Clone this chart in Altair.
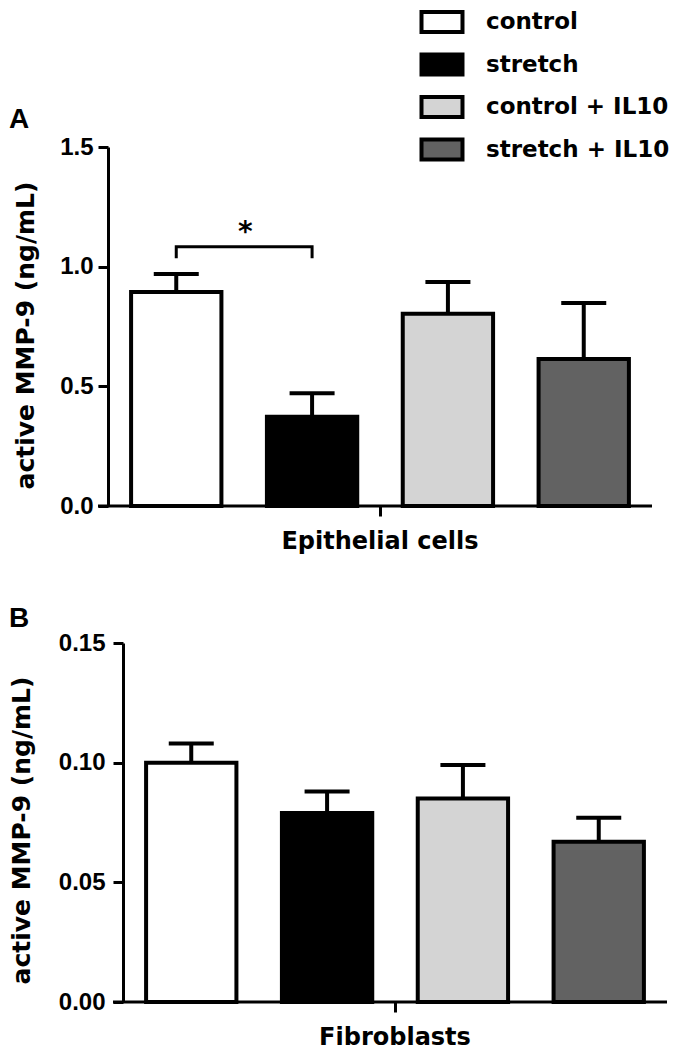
import altair as alt
import pandas as pd

# ---------------- data ----------------
groups = ["control", "stretch", "control + IL10", "stretch + IL10"]
fills = ["#ffffff", "#000000", "#d4d4d4", "#626262"]

epi_label = "Epithelial cells"
epi_mean = [0.894, 0.373, 0.803, 0.614]
epi_sem = [0.075, 0.098, 0.133, 0.234]
epi_ticks = [0.0, 0.5, 1.0, 1.5]

fib_label = "Fibroblasts"
fib_mean = [0.100, 0.079, 0.085, 0.067]
fib_sem = [0.008, 0.009, 0.014, 0.010]
fib_ticks = [0.0, 0.05, 0.10, 0.15]

sig_pair = ["control", "stretch"]
sig_level = 1.083
sig_drop = 1.035
sig_text = "*"

y_title = "active MMP-9 (ng/mL)"

TXT = "DejaVu Sans"
NUM = "Liberation Sans"
W, H = 544, 359

rect_path = "M-1.708,-0.833H1.708V0.833H-1.708Z"


def panel(cell, means, sems, ticks, fmt, ymax, letter, letter_y, shift,
          title_x, title_y, label_pad, legend, bracket):
    df = pd.DataFrame({
        "cell": [cell] * len(groups),
        "group": groups,
        "mean": means,
        "upper": [m + s for m, s in zip(means, sems)],
    })
    width = W + shift
    po = shift / W / 2.0
    x = alt.X("cell:N", title=None,
              scale=alt.Scale(paddingInner=0, paddingOuter=po, align=1),
              axis=alt.Axis(labelAngle=0, labelFont=TXT, labelFontSize=24,
                            labelFontWeight="bold", labelColor="black",
                            labelPadding=13, labelLimit=0, tickSize=10,
                            tickWidth=3, tickColor="black", domain=False,
                            grid=False))
    xo = alt.XOffset("group:N", sort=groups,
                     scale=alt.Scale(domain=groups, paddingInner=0.335,
                                     paddingOuter=0.17))
    y = alt.Y("mean:Q",
              scale=alt.Scale(domain=[0, ymax], nice=False, zero=True),
              axis=alt.Axis(values=ticks, format=fmt, title=y_title,
                            grid=False, offset=-shift,
                            labelFont=NUM, labelFontSize=24,
                            labelFontWeight="bold", labelColor="black",
                            labelPadding=label_pad, labelFlush=False,
                            labelOverlap=False, tickSize=10, tickWidth=3,
                            tickColor="black", domainWidth=3,
                            domainColor="black", titleFont=TXT,
                            titleFontSize=25, titleFontWeight="bold",
                            titleColor="black", titleX=title_x,
                            titleY=title_y))
    fill = alt.Fill("group:N", sort=groups,
                    scale=alt.Scale(domain=groups, range=fills),
                    legend=legend)

    base = alt.Chart(df)
    bars = base.mark_bar(stroke="black", strokeWidth=4).encode(
        x=x, xOffset=xo, y=y, fill=fill)
    err = base.mark_rule(color="black", strokeWidth=4).encode(
        x=x, xOffset=xo, y="mean:Q", y2="upper:Q")
    cap = base.mark_tick(orient="horizontal", size=45, thickness=4,
                         color="black", opacity=1).encode(
        x=x, xOffset=xo, y="upper:Q")
    # x-axis baseline, extended under the y-axis ticks
    xline = alt.Chart(pd.DataFrame({"z": [0]})).mark_rule(
        color="black", strokeWidth=3).encode(
        x=alt.value(shift - 10), x2=alt.value(width), y=alt.datum(0))
    lab = alt.Chart(pd.DataFrame({"t": [letter]})).mark_text(
        font=NUM, fontSize=28, fontWeight="bold", color="black",
        align="left", baseline="alphabetic").encode(
        x=alt.value(-99), y=alt.value(letter_y), text="t:N")

    layers = [bars, err, cap, xline, lab]
    if bracket:
        bdf = pd.DataFrame({
            "cell": [cell] * 4,
            "group": [sig_pair[0], sig_pair[0], sig_pair[1], sig_pair[1]],
            "y": [sig_drop, sig_level, sig_level, sig_drop],
            "ord": [0, 1, 2, 3],
        })
        line = alt.Chart(bdf).mark_line(color="black", strokeWidth=3).encode(
            x=x, xOffset=xo, y="y:Q", order="ord:Q")
        sdf = pd.DataFrame({"cell": [cell], "group": [sig_pair[0]],
                            "y": [sig_level], "t": [sig_text]})
        star = alt.Chart(sdf).mark_text(
            font=TXT, fontSize=28, fontWeight="bold", color="black",
            baseline="alphabetic", dx=69, dy=-6).encode(
            x=x, xOffset=xo, y="y:Q", text="t:N")
        layers += [line, star]

    return alt.layer(*layers).properties(
        width=width, height=H,
        view=alt.ViewBackground(stroke="transparent", strokeWidth=0))


legendA = alt.Legend(orient="none", legendX=320, legendY=-139, title=None,
                     symbolType=rect_path, symbolSize=576,
                     symbolStrokeColor="black", symbolStrokeWidth=4,
                     symbolOpacity=1, labelFont=TXT, labelFontSize=23,
                     labelFontWeight="bold", labelColor="black",
                     labelLimit=0, rowPadding=6.5, labelOffset=30, padding=0)

chartA = panel(epi_label, epi_mean, epi_sem, epi_ticks, ".1f", 1.5, "A",
               -19.3, 0, -70, 188, 5, legendA, True)
chartB = panel(fib_label, fib_mean, fib_sem, fib_ticks, ".2f", 0.15, "B",
               -16.3, 15, -89, 187, 8, None, False)

chart = alt.vconcat(chartA, chartB, spacing=51, padding=0,
                    background="white").resolve_scale(
    fill="independent").resolve_legend(fill="independent").configure_view(
    stroke="transparent", strokeWidth=0)

chart.save("out.html", embed_options={"renderer": "svg", "actions": False})
